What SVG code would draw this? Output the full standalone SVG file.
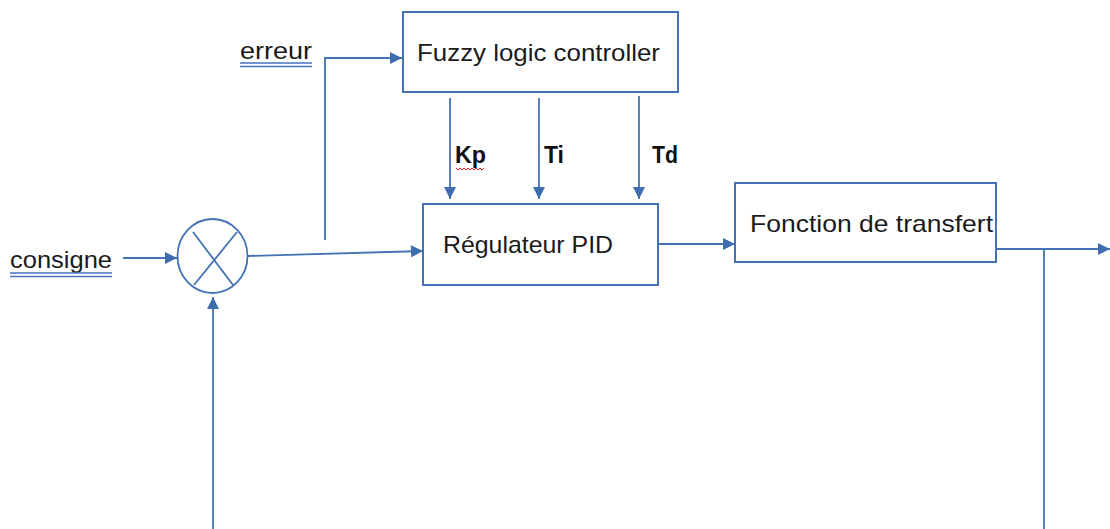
<svg xmlns="http://www.w3.org/2000/svg" width="1110" height="529" viewBox="0 0 1110 529">
<style>
.box{fill:#fff;stroke:#4472b4;stroke-width:2}
.ln{fill:none;stroke:#4472b4;stroke-width:1.8}
.t{font-family:"Liberation Sans",Arial,sans-serif;font-size:24px;fill:#1a1a1a}
.b{font-family:"Liberation Sans",Arial,sans-serif;font-size:23px;font-weight:bold;fill:#111}
.ul{fill:none;stroke:#4472c4;stroke-width:1.3}
</style>
<defs>
<marker id="ah" viewBox="0 0 10 10" refX="10" refY="5" markerWidth="13" markerHeight="12" orient="auto" markerUnits="userSpaceOnUse">
<path d="M0,0 L10,5 L0,10 z" fill="#3f6db0"/>
</marker>
</defs>
<rect width="1110" height="529" fill="#fff"/>
<g id="connectors">
<line class="ln" x1="123" y1="258" x2="177" y2="258" marker-end="url(#ah)"/>
<line class="ln" x1="248" y1="256" x2="423" y2="251" marker-end="url(#ah)"/>
<polyline class="ln" points="325,240 325,58 402,58" marker-end="url(#ah)"/>
<line class="ln" x1="450" y1="98" x2="450" y2="199" marker-end="url(#ah)"/>
<line class="ln" x1="539" y1="98" x2="539" y2="199" marker-end="url(#ah)"/>
<line class="ln" x1="639" y1="96" x2="639" y2="199" marker-end="url(#ah)"/>
<line class="ln" x1="658" y1="244" x2="735" y2="244" marker-end="url(#ah)"/>
<line class="ln" x1="996" y1="249" x2="1110" y2="249" marker-end="url(#ah)"/>
<line class="ln" x1="1044" y1="249" x2="1044" y2="529"/>
<line class="ln" x1="213" y1="529" x2="213" y2="297" marker-end="url(#ah)"/>
</g>
<g id="sum">
<ellipse class="ln" cx="212.5" cy="256" rx="35" ry="37"/>
<line class="ln" x1="193" y1="232" x2="233" y2="285"/>
<line class="ln" x1="237" y1="232" x2="194" y2="285"/>
</g>
<g id="consigne">
<text class="t" x="10" y="268" textLength="102" lengthAdjust="spacingAndGlyphs">consigne</text>
<line class="ul" x1="10" y1="273" x2="112" y2="273"/>
<line class="ul" x1="10" y1="276.5" x2="112" y2="276.5"/>
</g>
<g id="erreur">
<text class="t" x="240" y="59" textLength="72" lengthAdjust="spacingAndGlyphs">erreur</text>
<line class="ul" x1="240" y1="63" x2="312" y2="63"/>
<line class="ul" x1="240" y1="66.5" x2="312" y2="66.5"/>
</g>
<g id="fuzzy">
<rect class="box" x="403" y="12" width="275" height="80"/>
<text class="t" x="417" y="61" textLength="243" lengthAdjust="spacingAndGlyphs">Fuzzy logic controller</text>
</g>
<g id="labels">
<text class="b" x="455" y="163" textLength="31" lengthAdjust="spacingAndGlyphs">Kp</text>
<path d="M456,168 l2,2 l2,-2 l2,2 l2,-2 l2,2 l2,-2 l2,2 l2,-2 l2,2 l2,-2 l2,2 l2,-2 l2,2 l2,-2" fill="none" stroke="#e02020" stroke-width="1"/>
<text class="b" x="544" y="163" textLength="20" lengthAdjust="spacingAndGlyphs">Ti</text>
<text class="b" x="652" y="163" textLength="26" lengthAdjust="spacingAndGlyphs">Td</text>
</g>
<g id="pid">
<rect class="box" x="423" y="204" width="235" height="81"/>
<text class="t" x="443" y="253" textLength="170" lengthAdjust="spacingAndGlyphs">Régulateur PID</text>
</g>
<g id="transfert">
<rect class="box" x="735" y="183" width="261" height="79"/>
<text class="t" x="750" y="232" textLength="243" lengthAdjust="spacingAndGlyphs">Fonction de transfert</text>
</g>
</svg>
